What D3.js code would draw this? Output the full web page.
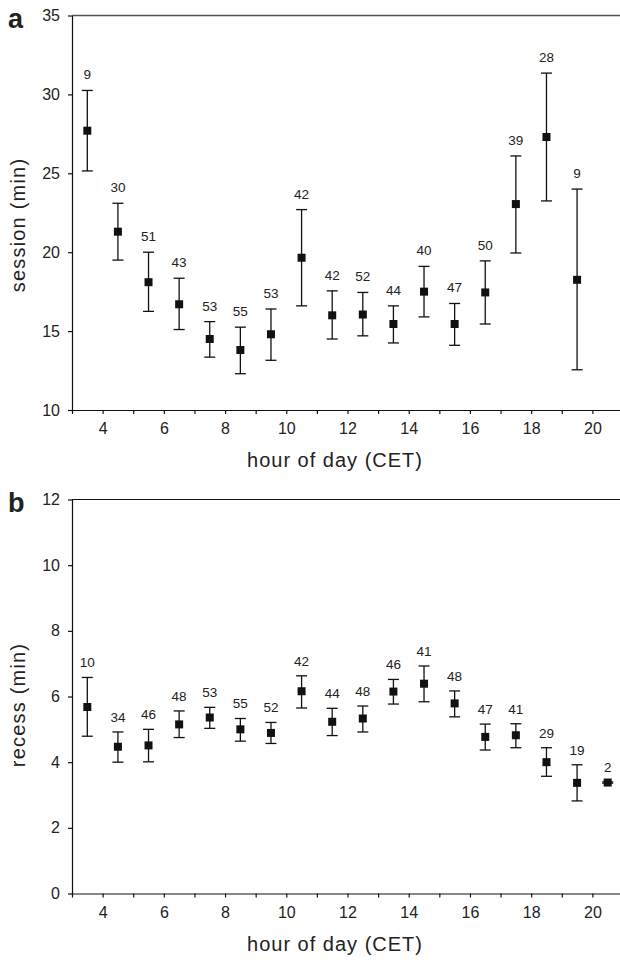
<!DOCTYPE html>
<html>
<head>
<meta charset="utf-8">
<script src="https://cdn.jsdelivr.net/npm/d3@7"></script>
<style>
  body { margin: 0; background: #fff; }
  svg text { font-family: "Liberation Sans", Arial, Helvetica, sans-serif; fill: #222; }
</style>
</head>
<body>
<div id="chart"></div>
<script>
// panel a : session length per hour
let hoursA      = [3.5, 4.5, 5.5, 6.5, 7.5, 8.5, 9.5, 10.5, 11.5, 12.5, 13.5, 14.5, 15.5, 16.5, 17.5, 18.5, 19.5];
let sessionMean = [27.7, 21.3, 18.1, 16.7, 14.5, 13.8, 14.8, 19.65, 16.0, 16.05, 15.45, 17.5, 15.45, 17.45, 23.05, 27.3, 18.25];
let sessionLo   = [25.15, 19.5, 16.25, 15.1, 13.35, 12.3, 13.15, 16.6, 14.5, 14.7, 14.25, 15.9, 14.1, 15.45, 19.95, 23.25, 12.55];
let sessionHi   = [30.25, 23.1, 20.0, 18.35, 15.6, 15.25, 16.4, 22.7, 17.55, 17.45, 16.6, 19.1, 16.75, 19.45, 26.1, 31.35, 24.0];
let sessionN    = [9, 30, 51, 43, 53, 55, 53, 42, 42, 52, 44, 40, 47, 50, 39, 28, 9];

// panel b : recess length per hour
let hoursB     = [3.5, 4.5, 5.5, 6.5, 7.5, 8.5, 9.5, 10.5, 11.5, 12.5, 13.5, 14.5, 15.5, 16.5, 17.5, 18.5, 19.5, 20.5];
let recessMean = [5.68, 4.47, 4.51, 5.15, 5.36, 5.0, 4.89, 6.16, 5.23, 5.33, 6.15, 6.39, 5.79, 4.77, 4.82, 4.0, 3.37, 3.38];
let recessLo   = [4.79, 4.0, 4.01, 4.75, 5.03, 4.64, 4.57, 5.65, 4.81, 4.92, 5.77, 5.84, 5.38, 4.37, 4.44, 3.57, 2.82, 3.36];
let recessHi   = [6.58, 4.92, 5.0, 5.56, 5.67, 5.33, 5.21, 6.63, 5.64, 5.71, 6.52, 6.93, 6.17, 5.16, 5.17, 4.44, 3.92, 3.40];
let recessN    = [10, 34, 46, 48, 53, 55, 52, 42, 44, 48, 46, 41, 48, 47, 41, 29, 19, 2];

let hourTicks  = d3.range(3, 22);
let sessionTicks = [10, 15, 20, 25, 30, 35];
let recessTicks  = [0, 2, 4, 6, 8, 10, 12];

let svg = d3.select("#chart").append("svg").attr("width", 620).attr("height", 960);

let x = d3.scaleLinear().domain([3, 21]).range([72, 623]);

function panel(opt) {
  let g = svg.append("g");
  let y = d3.scaleLinear().domain(opt.domain).range(opt.range);

  let rows = opt.hours.map((h, i) => ({h: h, m: opt.mean[i], lo: opt.lo[i], hi: opt.hi[i], n: opt.n[i]}));

  // top frame line
  g.append("line")
    .attr("x1", x(3)).attr("x2", 620)
    .attr("y1", y(opt.domain[1])).attr("y2", y(opt.domain[1]))
    .attr("stroke", opt.topColor).attr("stroke-width", opt.topWidth);

  g.append("g")
    .attr("transform", `translate(0,${y(opt.domain[0])})`)
    .call(d3.axisBottom(x).tickValues(hourTicks).tickSize(4).tickSizeOuter(0).tickPadding(9)
      .tickFormat(d => (d % 2 == 0) ? d : ""));

  g.append("g")
    .attr("transform", `translate(${x(3)},0)`)
    .call(d3.axisLeft(y).tickValues(opt.ticks).tickSize(4).tickSizeOuter(0).tickPadding(8));

  g.selectAll(".domain, .tick line").attr("stroke", "#111").attr("stroke-width", 1.2);
  g.selectAll(".tick text").attr("font-size", 16).style("font-family", "'Liberation Sans', Arial, sans-serif").attr("fill", "#222");

  // error bars
  let bars = g.append("g").attr("stroke", "#111").attr("stroke-width", 1.3);
  bars.selectAll("line.v").data(rows).enter().append("line").attr("class", "v")
    .attr("x1", d => x(d.h)).attr("x2", d => x(d.h))
    .attr("y1", d => y(d.lo)).attr("y2", d => y(d.hi));
  bars.selectAll("line.capHi").data(rows).enter().append("line").attr("class", "capHi")
    .attr("x1", d => x(d.h) - 5.5).attr("x2", d => x(d.h) + 5.5)
    .attr("y1", d => y(d.hi)).attr("y2", d => y(d.hi));
  bars.selectAll("line.capLo").data(rows).enter().append("line").attr("class", "capLo")
    .attr("x1", d => x(d.h) - 5.5).attr("x2", d => x(d.h) + 5.5)
    .attr("y1", d => y(d.lo)).attr("y2", d => y(d.lo));

  // markers
  g.selectAll("rect.pt").data(rows).enter().append("rect").attr("class", "pt")
    .attr("x", d => x(d.h) - 4).attr("y", d => y(d.m) - 4)
    .attr("width", 8).attr("height", 8).attr("fill", "#111");

  // sample sizes
  g.selectAll("text.n").data(rows).enter().append("text").attr("class", "n")
    .attr("x", d => x(d.h)).attr("y", d => y(d.hi) - opt.labelLift)
    .attr("text-anchor", "middle").attr("font-size", 13.5)
    .text(d => d.n);

  // axis titles
  g.append("text")
    .attr("x", 335).attr("y", y(opt.domain[0]) + 57)
    .attr("text-anchor", "middle").attr("font-size", 20).attr("letter-spacing", 1)
    .text("hour of day (CET)");

  g.append("text")
    .attr("transform", `translate(25,${opt.titleY}) rotate(-90)`)
    .attr("text-anchor", "middle").attr("font-size", 20).attr("letter-spacing", 1.2)
    .text(opt.title);

  g.append("text")
    .attr("x", 8).attr("y", opt.letterY)
    .attr("font-size", 27).attr("font-weight", "bold").attr("fill", "#111")
    .text(opt.letter);
}

panel({
  hours: hoursA, mean: sessionMean, lo: sessionLo, hi: sessionHi, n: sessionN,
  domain: [10, 35], range: [410, 15.5], ticks: sessionTicks,
  title: "session (min)", titleY: 225, letter: "a", letterY: 28,
  topColor: "#555", topWidth: 1.6, labelLift: 11
});

panel({
  hours: hoursB, mean: recessMean, lo: recessLo, hi: recessHi, n: recessN,
  domain: [0, 12], range: [893.5, 499.5], ticks: recessTicks,
  title: "recess (min)", titleY: 705, letter: "b", letterY: 512,
  topColor: "#111", topWidth: 1.2, labelLift: 10
});
</script>
</body>
</html>
